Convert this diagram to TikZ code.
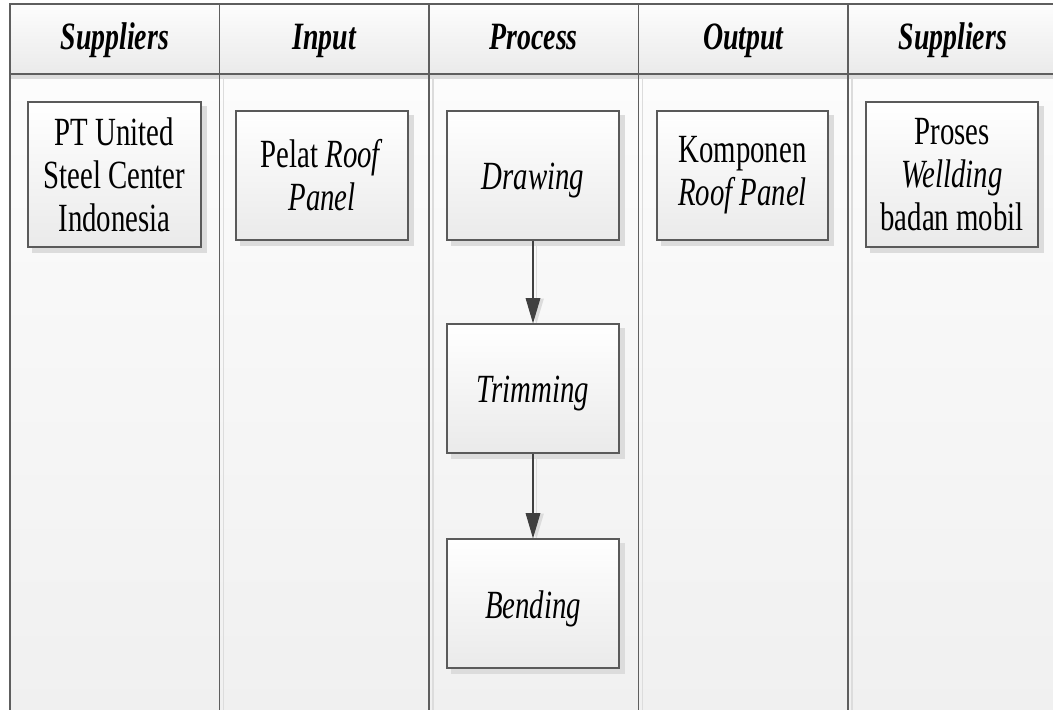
\documentclass[tikz,border=0pt]{standalone}
\usepackage{fontspec}
\setmainfont{Liberation Serif}[FakeStretch=0.72]
\usetikzlibrary{arrows.meta}

\definecolor{framec}{HTML}{5E5E5E}
\definecolor{boxline}{HTML}{5A5A5A}
\definecolor{shadowc}{HTML}{DCDCDC}
\definecolor{lanetop}{HTML}{FCFCFC}
\definecolor{lanebot}{HTML}{F0F0F0}
\definecolor{headtop}{HTML}{FDFDFD}
\definecolor{headbot}{HTML}{EAEAEA}
\definecolor{boxbot}{HTML}{EAEAEA}
\definecolor{arrowc}{HTML}{404040}

\pgfdeclarelayer{lanes}
\pgfdeclarelayer{shadows}
\pgfsetlayers{lanes,shadows,main}

% single-line labels sit a little below the box centre
\newcommand{\lowered}[1]{\raisebox{-4pt}[\height][\depth]{#1}}

\tikzset{
  headtext/.style={anchor=base, inner sep=0pt,
    font=\fontsize{29}{31}\selectfont\bfseries\itshape},
  stepbox/.style 2 args={draw=boxline, line width=0.9pt,
    top color=white, bottom color=boxbot,
    minimum width=#1*0.75pt, minimum height=#2*0.75pt,
    inner sep=0pt, align=center,
    font=\fontsize{30}{32.3}\selectfont},
  flow/.style={draw=arrowc, line width=0.8pt,
    -{Triangle[width=11pt,length=19pt]}},
  flowshadow/.style={draw=shadowc, line width=1pt,
    -{Triangle[width=11pt,length=19pt]}},
}

\begin{document}
\begin{tikzpicture}[x=0.75pt,y=-0.75pt]
\useasboundingbox (0,0) rectangle (1053,710);
\clip (0,0) rectangle (1053,710);

% swimlanes: header band and lane bodies
\begin{pgfonlayer}{lanes}
  \foreach \i in {0,...,4} {
    \pgfmathsetmacro\xa{10+209.5*\i}
    \pgfmathsetmacro\xb{\xa+209.5}
    \shade[top color=lanetop, bottom color=lanebot] (\xa,74) rectangle (\xb,715);
    \shade[top color=headtop, bottom color=headbot] (\xa,4) rectangle (\xb,74);
  }
  \fill[shadowc] (10,74) rectangle (1060,79);
  \foreach \x in {219.5,429,638.5,848} {
    \draw[shadowc, line width=1.2pt] (\x+4,79) -- (\x+4,715);
    \draw[framec, line width=0.9pt] (\x,4) -- (\x,715);
  }
  \draw[framec, line width=0.9pt] (10,715) -- (10,4) -- (1060,4);
  \draw[framec, line width=0.9pt] (10,74) -- (1060,74);
\end{pgfonlayer}

% lane titles
\node[headtext] (h1) at (114.75,50) {Suppliers};
\node[headtext] (h2) at (324.25,50) {Input};
\node[headtext] (h3) at (533.75,50) {Process};
\node[headtext] (h4) at (743.25,50) {Output};
\node[headtext] (h5) at (952.75,50) {Suppliers};

% activity boxes
\node[stepbox={173}{145}] (sup) at (114.5,174.5) {PT United\\Steel Center\\Indonesia};
\node[stepbox={172}{129}] (inp) at (322,175.5) {Pelat \textit{Roof}\\\textit{Panel}};
\node[stepbox={172}{129}] (drw) at (533,175.5) {\lowered{\textit{Drawing}}};
\node[stepbox={172}{129}] (trm) at (533,388.5) {\lowered{\textit{Trimming}}};
\node[stepbox={172}{129}] (bnd) at (533,603.5) {\lowered{\textit{Bending}}};
\node[stepbox={171}{129}] (out) at (742.5,175.5) {Komponen\\\textit{Roof Panel}};
\node[stepbox={172}{145}] (cus) at (952,174.5) {Proses\\\textit{Wellding}\\badan mobil};

% drop shadows of the boxes
\begin{pgfonlayer}{shadows}
  \foreach \n in {sup,inp,drw,trm,bnd,out,cus} {
    \fill[shadowc] ([shift={(5,5)}]\n.north west) rectangle ([shift={(5,5)}]\n.south east);
  }
  \begin{scope}[transform canvas={xshift=2.5pt,yshift=-0.5pt}]
    \draw[flowshadow] (drw) -- (trm);
    \draw[flowshadow] (trm) -- (bnd);
  \end{scope}
\end{pgfonlayer}

% process flow
\draw[flow] (drw) -- (trm);
\draw[flow] (trm) -- (bnd);
\end{tikzpicture}
\end{document}
